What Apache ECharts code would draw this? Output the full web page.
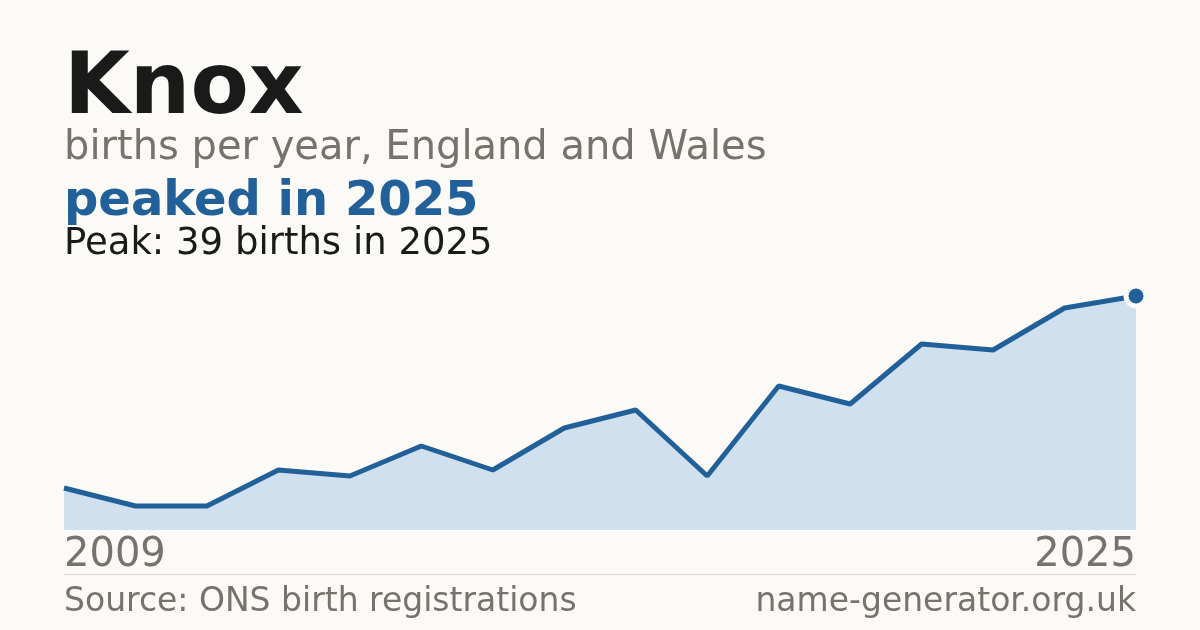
<!DOCTYPE html>
<html>
<head>
<meta charset="utf-8">
<script src="https://cdn.jsdelivr.net/npm/echarts@6/dist/echarts.min.js"></script>
<style>
html,body{margin:0;padding:0;background:#fbfaf6;}
#c{width:1200px;height:630px;}
</style>
</head>
<body>
<div id="c"></div>
<script>
const years = ['2009','2010','2011','2012','2013','2014','2015','2016','2017','2018','2019','2021','2022','2023','2024','2025'];
const births = [7,4,4,10,9,14,10,17,20,9,24,21,31,30,37,39];
const peakYear = '2025';
const peakValue = 39;

const FONT = "'DejaVu Sans', sans-serif";
const chart = echarts.init(document.getElementById('c'), null, {renderer:'canvas'});
const lastIdx = years.length - 1;

function txt(x, baseline, text, size, color, weight, align) {
  return {
    type: 'text', x: x, y: baseline - size * 0.285, silent: true,
    style: {text: text, fontFamily: FONT, fontSize: size, fontWeight: weight || 'normal',
      fill: color, verticalAlign: 'middle', align: align || 'left'}
  };
}

chart.setOption({
  backgroundColor: '#fbfaf6',
  animation: false,
  grid: {left: 64, right: 64, top: 296, bottom: 100},
  xAxis: {
    type: 'category',
    data: years,
    boundaryGap: false,
    axisLine: {show: false},
    axisTick: {show: false},
    splitLine: {show: false},
    axisLabel: {
      interval: function(i){ return i === 0 || i === lastIdx; },
      fontFamily: FONT,
      fontSize: 40,
      color: '#77726b',
      margin: 6,
      alignMinLabel: 'left',
      alignMaxLabel: 'right'
    }
  },
  yAxis: {
    type: 'value',
    min: 0,
    max: peakValue,
    show: false,
    splitLine: {show: false}
  },
  series: [
    {
      type: 'line',
      data: births,
      symbol: 'none',
      lineStyle: {color: '#22609a', width: 5},
      areaStyle: {color: '#d0e0ef', opacity: 1},
      z: 2
    },
    {
      type: 'scatter',
      data: [[peakYear, peakValue]],
      symbol: 'circle',
      symbolSize: 20,
      itemStyle: {color: '#22609a', borderColor: '#fbfaf6', borderWidth: 5, opacity: 1},
      z: 5
    }
  ],
  graphic: [
    txt(64, 115, 'Knox', 85, '#1a1a1a', 'bold'),
    txt(64, 160.5, 'births per year, England and Wales', 40, '#77726b'),
    txt(64, 216, 'peaked in ' + peakYear, 48, '#22609a', 'bold'),
    txt(64, 255, 'Peak: ' + peakValue + ' births in ' + peakYear, 37, '#1a1a1a'),
    {type:'line', silent:true, shape:{x1:64, y1:574.5, x2:1136, y2:574.5}, style:{stroke:'#ddd8cf', lineWidth:1}},
    txt(64, 611.5, 'Source: ONS birth registrations', 33, '#77726b'),
    txt(1136, 611.5, 'name-generator.org.uk', 33, '#77726b', 'normal', 'right')
  ]
});
</script>
</body>
</html>
